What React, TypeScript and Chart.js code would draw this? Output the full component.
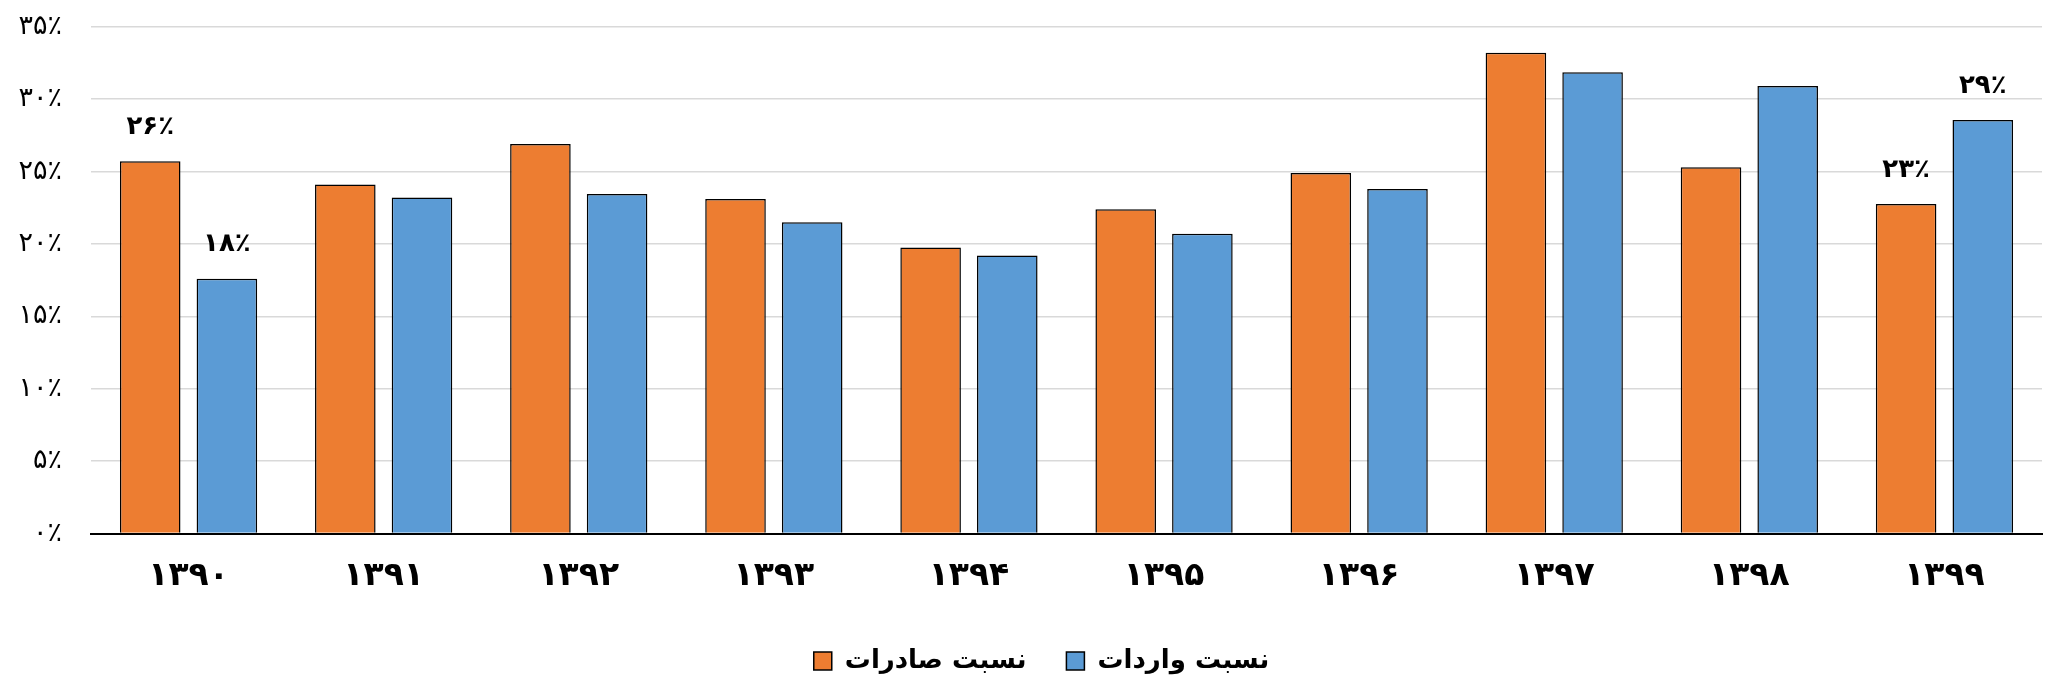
import React, { useEffect, useRef } from "react";
import { Chart, registerables } from "chart.js";

Chart.register(...registerables);

const categories = ["۱۳۹۰", "۱۳۹۱", "۱۳۹۲", "۱۳۹۳", "۱۳۹۴", "۱۳۹۵", "۱۳۹۶", "۱۳۹۷", "۱۳۹۸", "۱۳۹۹"];
const exportShare = [25.7, 24.1, 26.9, 23.1, 19.75, 22.4, 24.9, 33.2, 25.3, 22.76];
const importShare = [17.6, 23.2, 23.45, 21.5, 19.2, 20.7, 23.8, 31.85, 30.9, 28.56];
const seriesNames = ["نسبت صادرات", "نسبت واردات"];
const labeledIndices = [0, 9];
const yTicks = [0, 5, 10, 15, 20, 25, 30, 35];

const FONT = "'DejaVu Sans', 'Noto Sans', sans-serif";
const toFa = (n: number) => String(n).replace(/[0-9]/g, (d) => "۰۱۲۳۴۵۶۷۸۹"[Number(d)]);

const dataLabelPlugin = {
  id: "dataLabels",
  afterDatasetsDraw(chart: any) {
    const ctx = chart.ctx;
    ctx.save();
    ctx.fillStyle = "#000";
    ctx.font = `bold 26px ${FONT}`;
    ctx.textAlign = "center";
    ctx.textBaseline = "middle";
    chart.data.datasets.forEach((ds: any, di: number) => {
      const meta = chart.getDatasetMeta(di);
      labeledIndices.forEach((i) => {
        const el = meta.data[i];
        if (!el) return;
        const v = ds.data[i];
        ctx.fillText(toFa(Math.round(v)) + "٪", el.x, el.y - 34);
      });
    });
    ctx.restore();
  },
};

const legendShiftPlugin = {
  id: "legendShift",
  afterLayout(chart: any) {
    const lg = chart.legend;
    if (lg) {
      lg.left -= 25;
      lg.right -= 25;
    }
  },
};

export default function App() {
  const ref = useRef<HTMLCanvasElement | null>(null);
  useEffect(() => {
    if (!ref.current) return;
    const chart = new Chart(ref.current, {
      type: "bar",
      data: {
        labels: categories,
        datasets: [
          {
            label: seriesNames[0],
            data: exportShare,
            backgroundColor: "#ED7D31",
            borderColor: "#000000",
            borderWidth: 1.5,
            categoryPercentage: 0.786,
            barPercentage: 0.79,
          },
          {
            label: seriesNames[1],
            data: importShare,
            backgroundColor: "#5B9BD5",
            borderColor: "#000000",
            borderWidth: 1.5,
            categoryPercentage: 0.786,
            barPercentage: 0.79,
          },
        ],
      },
      options: {
        responsive: false,
        animation: false,
        devicePixelRatio: 1,
        layout: { padding: { left: 0, right: 6, top: 26.7, bottom: 0 } },
        plugins: {
          tooltip: { enabled: false },
          legend: {
            position: "bottom",
            fullSize: false,
            labels: {
              color: "#000",
              font: { family: FONT, size: 26, weight: "bold" },
              boxWidth: 18,
              boxHeight: 18,
              padding: 40,
            },
          },
        },
        scales: {
          x: {
            grid: { display: false, drawTicks: false },
            border: { display: true, color: "#000", width: 2 },
            ticks: {
              color: "#000",
              font: { family: FONT, size: 33, weight: "bold" },
              padding: 22.7,
              maxRotation: 0,
            },
            afterFit: (scale: any) => {
              scale.height = 74.5;
            },
          },
          y: {
            min: 0,
            max: 35,
            afterBuildTicks: (scale: any) => {
              scale.ticks = yTicks.map((v) => ({ value: v }));
            },
            grid: { color: "#d9d9d9", lineWidth: 1.5, drawTicks: false },
            border: { display: false },
            ticks: {
              color: "#000",
              font: { family: FONT, size: 27 },
              padding: 29,
              callback: (v: any) => toFa(v) + "٪",
            },
            afterFit: (scale: any) => {
              scale.width = 91;
              scale.paddingTop = 0;
              scale.paddingBottom = 0;
            },
          },
        },
      },
      plugins: [dataLabelPlugin, legendShiftPlugin],
    } as any);
    return () => chart.destroy();
  }, []);
  return (
    <div style={{ position: "fixed", left: 0, top: 0, width: 2048, height: 684, background: "#fff" }}>
      <canvas ref={ref} width={2048} height={684} style={{ width: 2048, height: 684 }} />
    </div>
  );
}
